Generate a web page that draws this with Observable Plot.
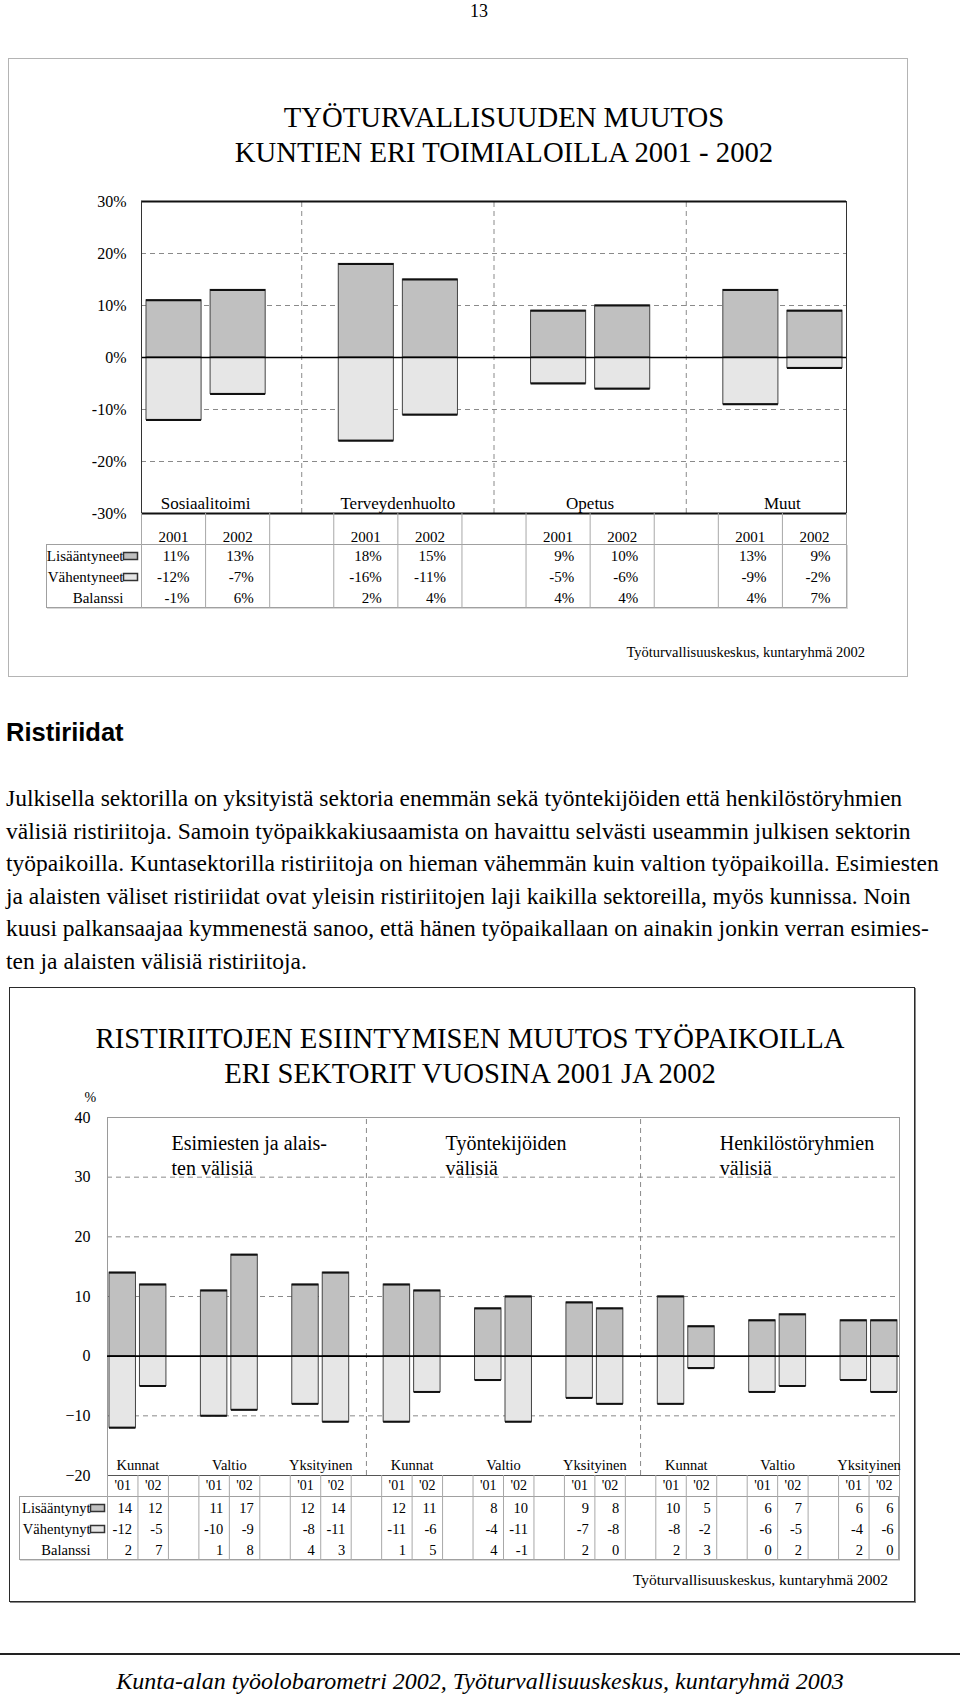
<!DOCTYPE html>
<html><head><meta charset="utf-8">
<script src="https://cdn.jsdelivr.net/npm/d3@7"></script>
<script src="https://cdn.jsdelivr.net/npm/@observablehq/plot@0.6"></script>
<style>
body{margin:0;background:#fff;}
#page{position:relative;width:960px;height:1696px;font-family:"Liberation Serif","Times New Roman",serif;color:#000;overflow:hidden;background:#fff;}
#page > *{position:absolute;}
.t{white-space:pre;}
</style></head><body><div id="page"></div>
<script>
// ---------- DATA: top chart ----------
const topCategories = ["Sosiaalitoimi", "Terveydenhuolto", "Opetus", "Muut"];
const topYears = ["2001", "2002"];
const topIncreased = [11, 13, 18, 15, 9, 10, 13, 9];
const topDecreased = [-12, -7, -16, -11, -5, -6, -9, -2];
const topBalance = [-1, 6, 2, 4, 4, 4, 4, 7];
const topTicks = [-30, -20, -10, 0, 10, 20, 30];
const topRows = ["Lisääntyneet", "Vähentyneet", "Balanssi"];

// ---------- DATA: bottom chart ----------
const botSectors = ["Esimiesten ja alais-\nten välisiä", "Työntekijöiden\nvälisiä", "Henkilöstöryhmien\nvälisiä"];
const botGroups = ["Kunnat", "Valtio", "Yksityinen"];
const botYears = ["'01", "'02"];
const botIncreased = [14, 12, 11, 17, 12, 14, 12, 11, 8, 10, 9, 8, 10, 5, 6, 7, 6, 6];
const botDecreased = [-12, -5, -10, -9, -8, -11, -11, -6, -4, -11, -7, -8, -8, -2, -6, -5, -4, -6];
const botBalance = [2, 7, 1, 8, 4, 3, 1, 5, 4, -1, 2, 0, 2, 3, 0, 2, 2, 0];
const botTicks = [-20, -10, 0, 10, 20, 30, 40];
const botRows = ["Lisääntynyt", "Vähentynyt", "Balanssi"];

// ---------- text ----------
const paragraphLines = [
  "Julkisella sektorilla on yksityistä sektoria enemmän sekä työntekijöiden että henkilöstöryhmien",
  "välisiä ristiriitoja. Samoin työpaikkakiusaamista on havaittu selvästi useammin julkisen sektorin",
  "työpaikoilla. Kuntasektorilla ristiriitoja on hieman vähemmän kuin valtion työpaikoilla. Esimiesten",
  "ja alaisten väliset ristiriidat ovat yleisin ristiriitojen laji kaikilla sektoreilla, myös kunnissa. Noin",
  "kuusi palkansaajaa kymmenestä sanoo, että hänen työpaikallaan on ainakin jonkin verran esimies-",
  "ten ja alaisten välisiä ristiriitoja."
];

// ---------- helpers ----------
const page = document.getElementById("page");
function put(el, left, top) { el.style.left = left + "px"; el.style.top = top + "px"; page.appendChild(el); return el; }
// cy = vertical centre of the FIRST line
function text(str, o) {
  const d = document.createElement("div");
  d.className = "t";
  d.textContent = str;
  const lh = o.lh || Math.round(o.size * 1.25);
  Object.assign(d.style, {fontSize: o.size + "px", lineHeight: lh + "px", fontFamily: o.family || "'Liberation Serif', serif",
    fontWeight: o.weight || "normal", fontStyle: o.style || "normal", textAlign: o.align || "left", width: (o.width != null ? o.width + "px" : "auto")});
  return put(d, o.left, o.cy - lh / 2);
}
function box(left, top, w, h, border, extra) {
  const d = document.createElement("div");
  Object.assign(d.style, {width: w + "px", height: h + "px", border: border, boxSizing: "border-box"}, extra || {});
  return put(d, left, top);
}
const baseStyle = {background: "transparent", overflow: "visible", fontFamily: "'Liberation Serif', serif", color: "#000"};
const swatchSymbol = {draw(ctx) { ctx.rect(-7, -3.5, 14, 7); }};
const incFill = "#c0c0c0", decFill = "#e6e6e6";
const dash = {stroke: "#8a8a8a", strokeDasharray: "5,4"};

// ---------- page number ----------
text("13", {left: 0, width: 958, align: "center", cy: 11, size: 18});

// ---------- TOP CHART ----------
box(8, 58, 900, 619, "1px solid #b4b4b4");
text("TYÖTURVALLISUUDEN MUUTOS\nKUNTIEN ERI TOIMIALOILLA 2001 - 2002", {left: 0, width: 1008, align: "center", cy: 117, size: 28.7, lh: 35});

const topSlots = topCategories.flatMap((c, i) => topYears.map((yr, j) => ({
  cat: c, year: yr, slot: i * 3 + j, inc: topIncreased[i * 2 + j], dec: topDecreased[i * 2 + j], bal: topBalance[i * 2 + j]
})));
const topN = topCategories.length * 3 - 1;
const topGaps = d3.range(topCategories.length - 1).map(i => i * 3 + 2.5);
const topCatLabels = topCategories.map((c, i) => ({cat: c, at: i * 3 + 1}));
const topM = {width: 960, marginLeft: 141, marginRight: 114};

const topChart = Plot.plot({
  ...topM, height: 333, marginTop: 11, marginBottom: 10, style: baseStyle,
  x: {domain: [0, topN], axis: null},
  y: {domain: [-30, 30]},
  marks: [
    Plot.ruleY([20, 10, -10, -20], dash),
    Plot.ruleX(topGaps, {y1: -30, y2: 30, ...dash}),
    Plot.rectY(topSlots, {x1: "slot", x2: d => d.slot + 1, y1: 0, y2: "inc", insetLeft: 5, insetRight: 4, fill: incFill, stroke: "#444"}),
    Plot.rectY(topSlots, {x1: "slot", x2: d => d.slot + 1, y1: 0, y2: "dec", insetLeft: 5, insetRight: 4, fill: decFill, stroke: "#444"}),
    Plot.ruleY(topSlots, {y: "inc", x1: "slot", x2: d => d.slot + 1, insetLeft: 5, insetRight: 4, stroke: "#111", strokeWidth: 2}),
    Plot.ruleY(topSlots, {y: "dec", x1: "slot", x2: d => d.slot + 1, insetLeft: 5, insetRight: 4, stroke: "#111", strokeWidth: 2}),
    Plot.ruleY([0], {stroke: "#000", strokeWidth: 1.6}),
    Plot.ruleY([30, -30], {stroke: "#111", strokeWidth: 2}),
    Plot.ruleX([0, topN], {stroke: "#333"}),
    Plot.axisY(topTicks, {tickSize: 0, tickPadding: 15, tickFormat: d => d + "%", fontSize: 16, label: null}),
    Plot.text(topCatLabels, {x: "at", y: -30, text: "cat", lineAnchor: "bottom", dy: -5, fontSize: 17})
  ]
});
put(topChart, 0, 190);

const topHeader = Plot.plot({
  ...topM, height: 31, marginTop: 0, marginBottom: 0, style: baseStyle,
  x: {domain: [0, topN], axis: null},
  marks: [
    Plot.ruleX(d3.range(topN + 1), {stroke: "#a8a8a8"}),
    Plot.text(topSlots, {x: d => d.slot + 0.5, text: "year", frameAnchor: "bottom", lineAnchor: "bottom", dy: -3, fontSize: 15})
  ]
});
put(topHeader, 0, 513);

box(46, 544, 801, 64, "1px solid #a0a0a0", {boxShadow: "1px 1px 0 #d8d8d8"});
const topCells = topSlots.flatMap(d => [
  {row: topRows[0], slot: d.slot, v: d.inc},
  {row: topRows[1], slot: d.slot, v: d.dec},
  {row: topRows[2], slot: d.slot, v: d.bal}
]);
const topBody = Plot.plot({
  ...topM, height: 64, marginTop: 0, marginBottom: 0, style: baseStyle,
  x: {domain: [0, topN], axis: null},
  y: {type: "band", domain: topRows, padding: 0},
  marks: [
    Plot.ruleX(d3.range(topN + 1), {stroke: "#a8a8a8"}),
    Plot.axisY({tickSize: 0, tickPadding: 18, fontSize: 15, label: null}),
    Plot.dot([topRows[0]], {y: d => d, frameAnchor: "left", dx: -11, symbol: swatchSymbol, fill: incFill, stroke: "#333"}),
    Plot.dot([topRows[1]], {y: d => d, frameAnchor: "left", dx: -11, symbol: swatchSymbol, fill: decFill, stroke: "#333"}),
    Plot.text(topCells, {x: d => d.slot + 1, y: "row", text: d => d.v + "%", textAnchor: "end", dx: -16, fontSize: 15})
  ]
});
put(topBody, 0, 544);

text("Työturvallisuuskeskus, kuntaryhmä 2002", {left: 465, width: 400, align: "right", cy: 652, size: 14.5});

// ---------- TEXT SECTION ----------
text("Ristiriidat", {left: 6, cy: 732, size: 25.5, weight: "bold", family: "'Liberation Sans', Arial, sans-serif", lh: 30});
paragraphLines.forEach((line, i) => text(line, {left: 6, cy: 798 + i * 32.5, size: 23.5, lh: 30}));

// ---------- BOTTOM CHART ----------
box(9, 987, 906, 615, "1.5px solid #2a2a2a", {boxShadow: "1px 1px 0 #888"});
text("RISTIRIITOJEN ESIINTYMISEN MUUTOS TYÖPAIKOILLA\nERI SEKTORIT VUOSINA 2001 JA 2002", {left: 0, width: 940, align: "center", cy: 1038, size: 28.7, lh: 35});

const botSlots = [];
botSectors.forEach((s, si) => botGroups.forEach((g, gi) => botYears.forEach((yr, yi) => {
  const k = si * 6 + gi * 2 + yi;
  botSlots.push({sector: s, group: g, year: yr, slot: si * 9 + gi * 3 + yi, inc: botIncreased[k], dec: botDecreased[k], bal: botBalance[k]});
})));
const botN = botSectors.length * botGroups.length * 3 - 1;
const botSeparators = d3.range(botSectors.length - 1).map(i => i * 9 + 8.5);
const botSectorLabels = botSectors.map((s, i) => ({label: s, at: i * 9 + 2.1}));
const botGroupLabels = botSectors.flatMap((s, si) => botGroups.map((g, gi) => ({label: g, at: si * 9 + gi * 3 + 1})));
const botM = {width: 960, marginLeft: 107, marginRight: 61};

const botChart = Plot.plot({
  ...botM, height: 400, marginTop: 32, marginBottom: 10, style: baseStyle,
  x: {domain: [0, botN], axis: null},
  y: {domain: [-20, 40]},
  marks: [
    Plot.ruleY([30, 20, 10, -10], dash),
    Plot.ruleX(botSeparators, {y1: -20, y2: 40, ...dash}),
    Plot.ruleY([40], {stroke: "#9a9a9a"}),
    Plot.ruleX([0, botN], {stroke: "#9a9a9a"}),
    Plot.rectY(botSlots, {x1: "slot", x2: d => d.slot + 1, y1: 0, y2: "inc", insetLeft: 2, insetRight: 2, fill: incFill, stroke: "#444"}),
    Plot.rectY(botSlots, {x1: "slot", x2: d => d.slot + 1, y1: 0, y2: "dec", insetLeft: 2, insetRight: 2, fill: decFill, stroke: "#444"}),
    Plot.ruleY(botSlots, {y: "inc", x1: "slot", x2: d => d.slot + 1, insetLeft: 2, insetRight: 2, stroke: "#111", strokeWidth: 2}),
    Plot.ruleY(botSlots, {y: "dec", x1: "slot", x2: d => d.slot + 1, insetLeft: 2, insetRight: 2, stroke: "#111", strokeWidth: 2}),
    Plot.ruleY([0], {stroke: "#000", strokeWidth: 1.6}),
    Plot.ruleY([-20], {stroke: "#555"}),
    Plot.axisY(botTicks, {tickSize: 0, tickPadding: 17, fontSize: 16, label: null}),
    Plot.text(["%"], {frameAnchor: "top-left", dx: -23, dy: -25, fontSize: 14}),
    Plot.text(botSectorLabels, {x: "at", y: 40, text: "label", textAnchor: "start", lineAnchor: "top", dy: 15, fontSize: 20, lineHeight: 1.25}),
    Plot.text(botGroupLabels, {x: "at", y: -20, text: "label", lineAnchor: "bottom", dy: -6, fontSize: 14.5})
  ]
});
put(botChart, 0, 1085);

const botHeader = Plot.plot({
  ...botM, height: 21, marginTop: 0, marginBottom: 0, style: baseStyle,
  x: {domain: [0, botN], axis: null},
  marks: [
    Plot.ruleX(d3.range(botN + 1), {stroke: "#a8a8a8"}),
    Plot.text(botSlots, {x: d => d.slot + 0.5, text: "year", frameAnchor: "middle", fontSize: 14})
  ]
});
put(botHeader, 0, 1475);

box(19, 1496, 880, 64, "1px solid #a0a0a0", {boxShadow: "1px 1px 0 #d8d8d8"});
const botCells = botSlots.flatMap(d => [
  {row: botRows[0], slot: d.slot, v: d.inc},
  {row: botRows[1], slot: d.slot, v: d.dec},
  {row: botRows[2], slot: d.slot, v: d.bal}
]);
const botBody = Plot.plot({
  ...botM, height: 64, marginTop: 0, marginBottom: 0, style: baseStyle,
  x: {domain: [0, botN], axis: null},
  y: {type: "band", domain: botRows, padding: 0},
  marks: [
    Plot.ruleX(d3.range(botN + 1), {stroke: "#a8a8a8"}),
    Plot.axisY({tickSize: 0, tickPadding: 17, fontSize: 14.5, label: null}),
    Plot.dot([botRows[0]], {y: d => d, frameAnchor: "left", dx: -10, symbol: swatchSymbol, fill: incFill, stroke: "#333"}),
    Plot.dot([botRows[1]], {y: d => d, frameAnchor: "left", dx: -10, symbol: swatchSymbol, fill: decFill, stroke: "#333"}),
    Plot.text(botCells, {x: d => d.slot + 1, y: "row", text: d => String(d.v), textAnchor: "end", dx: -6, fontSize: 14.5})
  ]
});
put(botBody, 0, 1496);

text("Työturvallisuuskeskus, kuntaryhmä 2002", {left: 488, width: 400, align: "right", cy: 1579, size: 15.5});

// ---------- FOOTER ----------
box(0, 1653, 960, 2, "none", {background: "#222", height: "1.5px"});
text("Kunta-alan työolobarometri 2002, Työturvallisuuskeskus, kuntaryhmä 2003", {left: 0, width: 960, align: "center", cy: 1681, size: 24, style: "italic"});
</script>
</body></html>
